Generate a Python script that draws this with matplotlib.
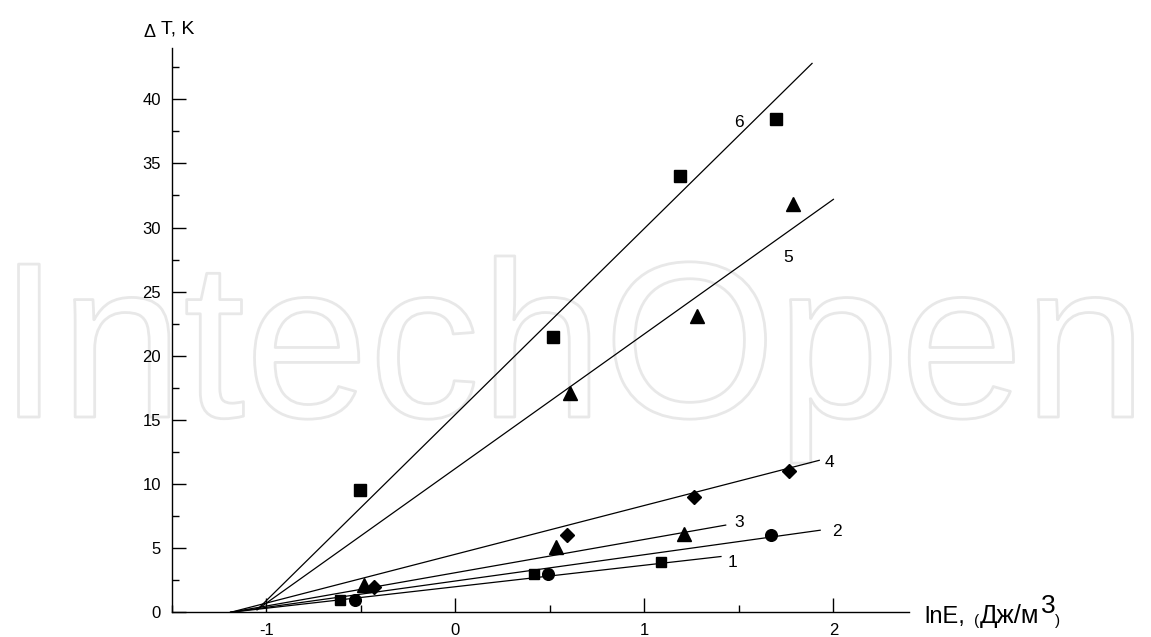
import matplotlib
matplotlib.use("Agg")
import matplotlib.pyplot as plt
import matplotlib.patheffects as pe
from matplotlib.ticker import MultipleLocator

plt.rcParams['font.family'] = ['Liberation Sans', 'DejaVu Sans']

# measured points (lnE, dT)
s1_x = [-0.61, 0.415, 1.087]
s1_y = [0.96, 3.0, 3.95]
s2_x = [-0.53, 0.49, 1.67]
s2_y = [0.96, 3.0, 6.0]
s3_x = [-0.485, 0.534, 1.21]
s3_y = [2.1, 5.1, 6.1]
s4_x = [-0.43, 0.59, 1.26, 1.767]
s4_y = [2.0, 6.0, 9.0, 11.0]
s5_x = [0.605, 1.28, 1.787]
s5_y = [17.1, 23.1, 31.8]
s6_x = [-0.507, 0.515, 1.19, 1.695]
s6_y = [9.5, 21.5, 34.0, 38.5]

# fitted lines, curves 1..6
line_x0 = [-1.19, -1.19, -1.19, -1.19, -1.05, -1.05]
line_y0 = [0.0, 0.0, 0.0, 0.0, 0.2, 0.2]
line_x1 = [1.405, 1.93, 1.43, 1.925, 2.0, 1.887]
line_y1 = [4.35, 6.4, 6.8, 11.85, 32.2, 42.8]

curve_labels = ['1', '2', '3', '4', '5', '6']
label_x = [1.467, 2.02, 1.50, 1.98, 1.76, 1.50]
label_y = [3.88, 6.3, 6.97, 11.67, 27.7, 38.2]

W, H = 1151, 637
fig = plt.figure(figsize=(W / 100, H / 100), dpi=100)

# watermark outline
fig.text(-2 / W, 1 - 417 / H, 'IntechOpen', fontsize=160, color='none',
         family='Liberation Sans', zorder=0,
         path_effects=[pe.Stroke(linewidth=2.0, foreground='#e8e8e8')])

ax = fig.add_axes([172 / W, 1 - 612.3 / H, (909 - 172) / W, (612.3 - 48) / H])
ax.set_zorder(1)
ax.patch.set_alpha(0)

for x0, y0, x1, y1 in zip(line_x0, line_y0, line_x1, line_y1):
    ax.plot([x0, x1], [y0, y1], color='black', lw=0.9)

mk = dict(color='black', linestyle='none', clip_on=False)
ax.plot(s1_x, s1_y, marker='s', ms=7.7, **mk)
ax.plot(s2_x, s2_y, marker='o', ms=8.4, **mk)
ax.plot(s3_x, s3_y, marker='^', ms=10, **mk)
ax.plot(s4_x, s4_y, marker='D', ms=7.2, **mk)
ax.plot(s5_x, s5_y, marker='^', ms=10, **mk)
ax.plot(s6_x, s6_y, marker='s', ms=8.4, **mk)

for t, x, y in zip(curve_labels, label_x, label_y):
    ax.text(x, y, t, fontsize=12.5, ha='center', va='center')

ax.set_xlim(-1.5, 2.4)
ax.set_ylim(0, 44)
ax.xaxis.set_major_locator(MultipleLocator(1))
ax.xaxis.set_minor_locator(MultipleLocator(0.5))
ax.yaxis.set_major_locator(MultipleLocator(5))
ax.yaxis.set_minor_locator(MultipleLocator(2.5))
for s in ['top', 'right']:
    ax.spines[s].set_visible(False)
for s in ['left', 'bottom']:
    ax.spines[s].set_linewidth(1.0)
ax.tick_params(which='major', direction='in', length=10, width=1, labelsize=12)
ax.tick_params(which='minor', direction='in', length=5, width=1)
ax.tick_params(axis='y', pad=8)
ax.tick_params(axis='x', pad=8)
ax.set_xticks([-1, 0, 1, 2])
ax.set_xticklabels(['-1', '0', '1', '2'])

# y axis title
fig.text(144 / W, 1 - 37 / H, 'Δ', fontsize=13, ha='left', va='baseline')
fig.text(161 / W, 1 - 33 / H, 'T, K', fontsize=14, ha='left', va='baseline')

# x axis title pieces
fig.text(924 / W, 1 - 623 / H, 'lnE,', fontsize=17, ha='left', va='baseline')
fig.text(974 / W, 1 - 625 / H, '(', fontsize=11, ha='left', va='baseline')
fig.text(980 / W, 1 - 623 / H, 'Дж/м', fontsize=18.5, ha='left', va='baseline')
fig.text(1041 / W, 1 - 613 / H, '3', fontsize=19, ha='left', va='baseline')
fig.text(1055 / W, 1 - 625 / H, ')', fontsize=11, ha='left', va='baseline')

fig.savefig('out.png', dpi=100)
